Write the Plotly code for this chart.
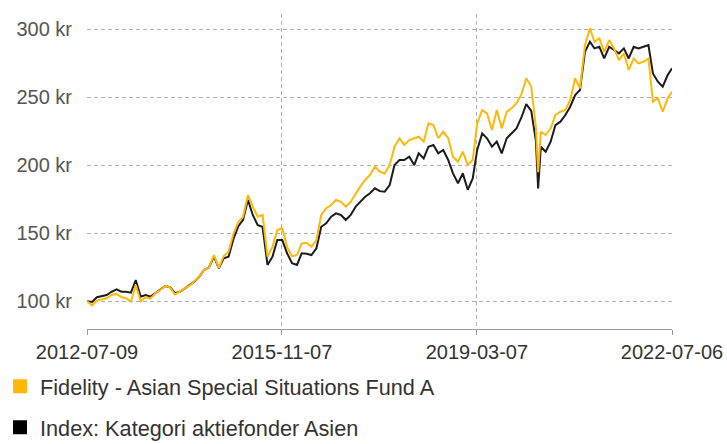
import plotly.graph_objects as go

# ---- data ----
dates = (
    ["2012-07-09", "2012-08-09", "2012-09-09", "2012-10-09", "2012-11-09", "2012-12-09"]
    + ["2013-%02d-09" % m for m in range(1, 13)]
    + ["2014-%02d-09" % m for m in range(1, 13)]
    + ["2015-%02d-09" % m for m in range(1, 13)]
    + ["2016-%02d-09" % m for m in range(1, 13)]
    + ["2017-%02d-09" % m for m in range(1, 13)]
    + ["2018-%02d-09" % m for m in range(1, 13)]
    + ["2019-%02d-09" % m for m in range(1, 13)]
    + ["2020-01-09", "2020-02-09", "2020-03-09", "2020-03-23", "2020-04-09", "2020-05-09",
       "2020-06-09", "2020-07-09", "2020-08-09", "2020-09-09", "2020-10-09", "2020-11-09",
       "2020-12-09"]
    + ["2021-%02d-09" % m for m in range(1, 13)]
    + ["2022-01-09", "2022-02-09", "2022-03-09", "2022-04-09", "2022-05-09", "2022-06-09",
       "2022-07-06"]
)

fund = (
    [100, 97, 100.5, 101.5, 102.2, 104.6]
    + [105.4, 103, 102.2, 99.7, 112, 100, 103, 102, 105.9, 108.3, 111.2, 110.3]
    + [105, 107, 109.5, 111.5, 114.4, 118, 123, 125, 134, 124.5, 133.3, 136.5]
    + [150, 158.5, 162, 178, 169.6, 162.2, 163.5, 132.8, 140, 152.4, 153.7, 140]
    + [133, 134, 142.6, 143, 140, 145, 163.5, 168.4, 170.8, 174.5, 173.2, 169.6]
    + [173.2, 179.4, 184.3, 189.2, 192.9, 199, 195.3, 194, 200.2, 213.7, 219.9, 215]
    + [218.6, 219.9, 221, 217.4, 230.9, 229.6, 219.9, 224.7, 219.9, 206.3, 202.6, 210]
    + [200.2, 203.9, 230.9, 240.7, 238.2, 226, 240.7, 227.2, 239.4, 241.9, 245.6, 252]
    + [264, 258, 228, 195, 224.7, 222.3, 227.2, 237, 239.4, 240.7, 248, 264, 256.6]
    + [288.4, 300.7, 290.9, 293.4, 283.5, 292.1, 286, 277.4, 282.3, 270.1, 278.6, 275]
    + [276.2, 278.6, 246.8, 249.3, 239.4, 249.3, 254.1]
)

index = (
    [100, 99.5, 103, 104, 104.6, 107]
    + [108.8, 107, 107, 106.3, 115.6, 103.4, 104.6, 103.4, 105.9, 108.3, 111.2, 110.3]
    + [106, 107, 109.5, 112, 114.4, 118, 123, 125, 132.8, 124.3, 131.6, 132.8]
    + [146, 155.4, 159.8, 174.5, 163.5, 156, 154.8, 126.7, 132.8, 145, 145, 135.3]
    + [128, 126.7, 135.3, 135, 134, 139, 154.8, 157.3, 162.2, 164.7, 163.5, 159.8]
    + [163.5, 169.6, 173.2, 176.9, 179.4, 183.1, 181, 180.6, 185.5, 200.2, 203.9, 203.9]
    + [206.3, 200.2, 208.8, 205.1, 213.7, 214.9, 208.8, 211.3, 203.9, 194.1, 186.8, 194.1]
    + [182, 190.4, 211.3, 223.5, 219.9, 213.7, 217.4, 208.8, 219.9, 223.5, 227.2, 235]
    + [245, 240, 218, 183, 213.7, 210, 217.4, 229.6, 232.1, 237, 243.1, 251.7, 255.4]
    + [283.5, 290.9, 286, 287.2, 278.6, 287.2, 284.8, 282.3, 286, 278.6, 287.2, 286]
    + [287.2, 288.4, 267.6, 261.5, 257.8, 266.4, 271.3]
)

fund_name = "Fidelity - Asian Special Situations Fund A"
index_name = "Index: Kategori aktiefonder Asien"
x_ticks = ["2012-07-09", "2015-11-07", "2019-03-07", "2022-07-06"]
y_ticks = [100, 150, 200, 250, 300]
y_tick_text = ["%d kr" % v for v in y_ticks]

YELLOW = "#FFB80A"
BLACK = "#1c1c1c"
FONT = "Liberation Sans, Arial, sans-serif"

fig = go.Figure()
fig.add_trace(go.Scatter(x=dates, y=index, mode="lines", line=dict(color=BLACK, width=2),
                         showlegend=False, hoverinfo="skip"))
fig.add_trace(go.Scatter(x=dates, y=fund, mode="lines", line=dict(color=YELLOW, width=2),
                         showlegend=False, hoverinfo="skip"))
# legend entries (square swatches)
fig.add_trace(go.Scatter(x=[None], y=[None], mode="markers", name=fund_name, legendgroup="a",
                         marker=dict(symbol="square", size=14, color=YELLOW)))
fig.add_trace(go.Scatter(x=[None], y=[None], mode="markers", name=index_name, legendgroup="b",
                         marker=dict(symbol="square", size=14, color="#000000")))

fig.update_layout(
    width=727, height=444,
    margin=dict(l=87, r=55, t=14, b=115, autoexpand=False),
    paper_bgcolor="white", plot_bgcolor="white",
    font=dict(family=FONT, size=20, color="#333"),
    legend=dict(
        orientation="v",
        x=-0.1487, y=-0.116, xanchor="left", yanchor="top",
        tracegroupgap=10, itemwidth=30,
        font=dict(family=FONT, size=21.7, color="#333"),
        bgcolor="rgba(0,0,0,0)",
    ),
    xaxis=dict(
        type="date",
        range=["2012-07-09", "2022-07-06"],
        tickvals=x_ticks, ticktext=x_ticks, tickangle=0,
        showgrid=True, gridcolor="#b0b0b0", griddash="4px,3px", gridwidth=1,
        showline=True, linecolor="#999", linewidth=1,
        ticks="outside", ticklen=5, tickcolor="#999",
        tickfont=dict(family=FONT, size=20, color="#333"),
        zeroline=False,
    ),
    yaxis=dict(
        range=[79.6, 311.3],
        tickvals=y_ticks, ticktext=y_tick_text,
        showgrid=True, gridcolor="#b0b0b0", griddash="4px,3px", gridwidth=1,
        showline=False, ticks="", ticklabelstandoff=14,
        tickfont=dict(family=FONT, size=20, color="#555"),
        zeroline=False,
    ),
)

fig.write_html(
    "out.html",
    config={"displayModeBar": False},
    post_script="document.body.style.margin='0';document.body.style.overflow='hidden';",
)
